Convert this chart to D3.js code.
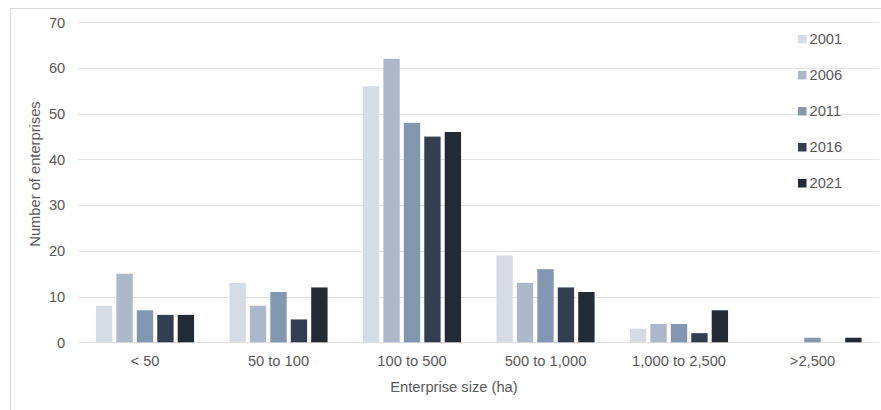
<!DOCTYPE html>
<html>
<head>
<meta charset="utf-8">
<script src="https://cdn.jsdelivr.net/npm/d3@7"></script>
<style>
  html, body { margin: 0; padding: 0; background: #fff; }
  svg { display: block; font-family: "Liberation Sans", Arial, sans-serif; }
</style>
</head>
<body>
<svg id="chart" width="881" height="410"></svg>
<script>
const categories = ["< 50", "50 to 100", "100 to 500", "500 to 1,000", "1,000 to 2,500", ">2,500"];
const years = ["2001", "2006", "2011", "2016", "2021"];
const v2001 = [8, 13, 56, 19, 3, 0];
const v2006 = [15, 8, 62, 13, 4, 0];
const v2011 = [7, 11, 48, 16, 4, 1];
const v2016 = [6, 5, 45, 12, 2, 0];
const v2021 = [6, 12, 46, 11, 7, 1];
const yTicks = [0, 10, 20, 30, 40, 50, 60, 70];
const colors = ["#d6dce5", "#adb9ca", "#8497b0", "#333f50", "#222a35"];

const seriesValues = [v2001, v2006, v2011, v2016, v2021];
const data = categories.map((c, i) => ({
  cat: c,
  vals: years.map((yr, j) => ({ year: yr, value: seriesValues[j][i], color: colors[j] }))
}));

(function () {
const svg = d3.select("#chart");
const mLeft = 78.25, mRight = 879.25, mTop = 22.3, mBottom = 342.3;
const FS = 14.7, FF = "Liberation Sans, Arial, sans-serif", TC = "#595959";

// outer frame
svg.append("rect")
  .attr("x", 10.5).attr("y", 8.5).attr("width", 880).attr("height", 420)
  .attr("fill", "none").attr("stroke", "#d9d9d9").attr("stroke-width", 1);

const x0 = d3.scaleBand().domain(categories).range([mLeft, mRight])
  .paddingInner(0.265).paddingOuter(0.1325);
const x1 = d3.scaleBand().domain(years).range([0, x0.bandwidth()]).paddingInner(0.2);
const y = d3.scaleLinear().domain([0, 70]).range([mBottom, mTop]);

// gridlines
svg.append("g").selectAll("line").data(yTicks).join("line")
  .attr("x1", mLeft).attr("x2", mRight)
  .attr("y1", d => Math.round(y(d)) + 0.5).attr("y2", d => Math.round(y(d)) + 0.5)
  .attr("stroke", "#e3e3e3").attr("stroke-width", 1.2);

// y axis labels
const yAxis = d3.axisLeft(y).tickValues(yTicks).tickSize(0).tickPadding(0);
const gy = svg.append("g").attr("transform", `translate(${mLeft - 13},0)`).call(yAxis);
gy.select(".domain").remove();
gy.attr("font-size", FS).attr("font-family", FF);
gy.selectAll("text").attr("fill", TC);

// bars
const groups = svg.append("g").selectAll("g").data(data).join("g")
  .attr("transform", d => `translate(${x0(d.cat)},0)`);
groups.selectAll("rect").data(d => d.vals).join("rect")
  .attr("x", d => x1(d.year))
  .attr("width", x1.bandwidth())
  .attr("y", d => y(d.value))
  .attr("height", d => y(0) - y(d.value))
  .attr("fill", d => d.color);

// x axis labels
const xAxis = d3.axisBottom(x0).tickSize(0).tickPadding(0);
const gx = svg.append("g").attr("transform", `translate(0,${mBottom})`).call(xAxis);
gx.select(".domain").remove();
gx.attr("font-size", FS).attr("font-family", FF);
gx.selectAll("text").attr("fill", TC).attr("dy", null).attr("y", 23.5);

// axis titles
svg.append("text").attr("x", 454).attr("y", 392)
  .attr("text-anchor", "middle").attr("fill", TC).attr("font-size", FS)
  .text("Enterprise size (ha)");
svg.append("text")
  .attr("transform", "translate(40,174) rotate(-90)")
  .attr("text-anchor", "middle").attr("fill", TC).attr("font-size", FS)
  .text("Number of enterprises");

// legend
const legend = svg.append("g").selectAll("g").data(years).join("g")
  .attr("transform", (d, i) => `translate(798,${39 + i * 36})`);
legend.append("rect").attr("x", 0).attr("y", -4).attr("width", 8.5).attr("height", 8.5)
  .attr("fill", (d, i) => colors[i]);
legend.append("text").attr("x", 11.5).attr("y", 0).attr("dy", "0.35em")
  .attr("fill", TC).attr("font-size", FS).text(d => d);
})();
</script>
</body>
</html>
